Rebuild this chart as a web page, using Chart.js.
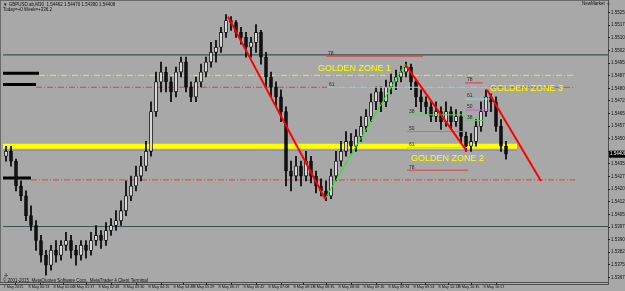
<!DOCTYPE html>
<html>
<head>
<meta charset="utf-8">
<script src="https://cdn.jsdelivr.net/npm/chart.js@4.4.0/dist/chart.umd.min.js"></script>
<style>
html, body { margin: 0; padding: 0; background: #a8a8a8; }
#wrap { width: 625px; height: 291px; position: relative; }
</style>
</head>
<body>
<div id="wrap"><canvas id="chart"></canvas></div>
<script>
// GBPUSD candles, one per slot
var firstOpen = 1.54396;
var closes = [
    1.54425, 1.54367, 1.54219, 1.54160, 1.54043, 1.53984, 1.53895, 1.53807, 1.53748, 1.53836,
    1.53807, 1.53866, 1.53895, 1.53836, 1.53807, 1.53866, 1.53836, 1.53895, 1.53925, 1.53895,
    1.53954, 1.53984, 1.54013, 1.54072, 1.54160, 1.54219, 1.54278, 1.54337, 1.54425, 1.54661,
    1.54838, 1.54897, 1.54838, 1.54779, 1.54897, 1.54956, 1.54808, 1.54749, 1.54838, 1.54897,
    1.54956, 1.55014, 1.55044, 1.55132, 1.55203, 1.55191, 1.55132, 1.55103, 1.55044, 1.55073,
    1.55132, 1.54985, 1.54867, 1.54808, 1.54749, 1.54661, 1.54308, 1.54278, 1.54337, 1.54278,
    1.54367, 1.54278, 1.54219, 1.54190, 1.54160, 1.54278, 1.54367, 1.54425, 1.54484, 1.54455,
    1.54514, 1.54573, 1.54632, 1.54720, 1.54779, 1.54720, 1.54808, 1.54838, 1.54867, 1.54897,
    1.54926, 1.54838, 1.54749, 1.54720, 1.54690, 1.54632, 1.54661, 1.54602, 1.54661, 1.54602,
    1.54632, 1.54514, 1.54455, 1.54484, 1.54573, 1.54661, 1.54749, 1.54720, 1.54573, 1.54455,
    1.54408
];
var highs = [
    1.54455, 1.54455, 1.54379, 1.54249, 1.54190, 1.54101, 1.54013, 1.53925, 1.53836, 1.53866,
    1.53895, 1.53895, 1.53943, 1.53925, 1.53866, 1.53895, 1.53895, 1.53943, 1.53984, 1.53954,
    1.54001, 1.54025, 1.54072, 1.54131, 1.54249, 1.54278, 1.54337, 1.54396, 1.54484, 1.54720,
    1.54897, 1.54956, 1.54926, 1.54867, 1.54926, 1.54985, 1.54985, 1.54838, 1.54867, 1.54944,
    1.54985, 1.55073, 1.55085, 1.55162, 1.55238, 1.55226, 1.55203, 1.55162, 1.55132, 1.55103,
    1.55179, 1.55144, 1.55014, 1.54897, 1.54838, 1.54791, 1.54690, 1.54367, 1.54396, 1.54367,
    1.54425, 1.54396, 1.54308, 1.54261, 1.54249, 1.54320, 1.54425, 1.54484, 1.54543, 1.54531,
    1.54555, 1.54632, 1.54673, 1.54767, 1.54808, 1.54808, 1.54849, 1.54885, 1.54908, 1.54932,
    1.54956, 1.54944, 1.54849, 1.54791, 1.54749, 1.54720, 1.54720, 1.54690, 1.54720, 1.54690,
    1.54673, 1.54661, 1.54543, 1.54531, 1.54614, 1.54720, 1.54791, 1.54767, 1.54749, 1.54614,
    1.54484
];
var lows = [
    1.54367, 1.54337, 1.54190, 1.54131, 1.54013, 1.53954, 1.53836, 1.53766, 1.53689, 1.53719,
    1.53766, 1.53778, 1.53836, 1.53789, 1.53748, 1.53778, 1.53789, 1.53807, 1.53866, 1.53848,
    1.53866, 1.53925, 1.53954, 1.53984, 1.54043, 1.54131, 1.54190, 1.54249, 1.54308, 1.54396,
    1.54632, 1.54779, 1.54779, 1.54720, 1.54749, 1.54867, 1.54779, 1.54720, 1.54720, 1.54808,
    1.54867, 1.54926, 1.54956, 1.55014, 1.55103, 1.55144, 1.55103, 1.55062, 1.54985, 1.54985,
    1.55014, 1.54944, 1.54808, 1.54749, 1.54690, 1.54602, 1.54219, 1.54190, 1.54249, 1.54219,
    1.54249, 1.54237, 1.54178, 1.54160, 1.54131, 1.54143, 1.54249, 1.54337, 1.54396, 1.54414,
    1.54425, 1.54484, 1.54543, 1.54602, 1.54673, 1.54661, 1.54690, 1.54767, 1.54791, 1.54838,
    1.54867, 1.54791, 1.54690, 1.54661, 1.54649, 1.54602, 1.54602, 1.54555, 1.54573, 1.54555,
    1.54573, 1.54473, 1.54425, 1.54425, 1.54455, 1.54543, 1.54632, 1.54661, 1.54543, 1.54425,
    1.54379
];

// time axis: label text and the candle it belongs to
var timeLabels = ['7 May 2015', '8 May 00:13', '8 May 01:00', '8 May 01:37', '8 May 02:48', '8 May 03:30',
    '8 May 04:15', '8 May 04:48', '8 May 05:29', '8 May 06:17', '8 May 06:42', '8 May 07:08', '8 May 08:13',
    '8 May 08:35', '8 May 08:58', '8 May 09:16', '8 May 09:34', '8 May 09:53', '8 May 10:13', '8 May 10:35',
    '8 May 10:57'];
var timeLabelCandles = [0, 5, 10, 14, 19, 24, 29, 34, 38, 43, 48, 53, 58, 62, 67, 72, 77, 82, 87, 91, 96];

var priceTicks = [1.55250, 1.55175, 1.55100, 1.55025, 1.54950, 1.54875, 1.54800, 1.54725, 1.54650, 1.54575,
    1.54500, 1.54425, 1.54350, 1.54275, 1.54200, 1.54125, 1.54050, 1.53975, 1.53900, 1.53825, 1.53750, 1.53675];

// objects drawn on the chart (candle index, price)
var trendLines = [
    { from: [44.4, 1.55226], to: [63.8, 1.54143], color: '#ff0000', width: 2 },
    { from: [63.8, 1.54143], to: [79.8, 1.54944], color: '#00ff00', width: 1 },
    { from: [79.8, 1.54944], to: [92.2, 1.54425], color: '#ff0000', width: 2 },
    { from: [96.2, 1.54791], to: [107.0, 1.54249], color: '#ff0000', width: 2 }
];
var levelNames = ['78', '61', '38', '50', '61', '78', '78', '61', '50', '38'];
var levelPrices = [1.54991, 1.54806, 1.54642, 1.54543, 1.54447, 1.54313, 1.54832, 1.54736, 1.54671, 1.54608];
var levelStart = [64.0, 64.2, 80.2, 80.2, 80.2, 80.2, 91.8, 91.8, 91.8, 91.8];
var levelEnd = [83.4, 96.8, 92.2, 92.2, 92.2, 92.4, 95.4, 96.8, 96.8, 95.8];
var zoneNames = ['GOLDEN ZONE 1', 'GOLDEN ZONE 2', 'GOLDEN ZONE 3'];
var zoneAt = [[62.4, 1.54920], [81.0, 1.54384], [96.8, 1.54796]];

var levelColors = { '78': '#e03c3c', '61': '#7fe0e8', '50': '#e050e0', '38': '#5ad35a' };

var X_MIN = -0.6, X_MAX = 120.4;

var opens = closes.map(function (c, i) { return i === 0 ? firstOpen : closes[i - 1]; });

function seg(x0, x1, y0, y1, color, width, dash, order) {
    return {
        type: 'line',
        data: [{ x: x0, y: y0 }, { x: x1, y: y1 }],
        borderColor: color,
        borderWidth: width,
        borderDash: dash || [],
        pointRadius: 0,
        fill: false,
        tension: 0,
        order: order
    };
}

var datasets = [];
// background levels
datasets.push(seg(X_MIN, X_MAX, 1.54999, 1.54999, '#3e5050', 1.2, null, 20));
datasets.push(seg(X_MIN, X_MAX, 1.53978, 1.53978, '#3e5050', 1.2, null, 20));
datasets.push(seg(6.6, 113.8, 1.54877, 1.54877, '#e6e64a', 1, [6, 2, 1, 2], 19));
datasets.push(seg(6.0, 113.8, 1.54806, 1.54806, '#d04848', 1, [6, 2, 1, 2], 19));
datasets.push(seg(5.0, 113.8, 1.54255, 1.54255, '#d04848', 1, [6, 2, 1, 2], 19));
datasets.push(seg(X_MIN, 6.6, 1.54889, 1.54889, '#000000', 3, null, 18));
datasets.push(seg(X_MIN, 6.0, 1.54822, 1.54822, '#000000', 3, null, 18));
datasets.push(seg(X_MIN, 5.0, 1.54266, 1.54266, '#000000', 3, null, 18));
datasets.push(seg(X_MIN, 102.2, 1.54455, 1.54455, '#ffff00', 5, null, 17));
datasets.push(seg(X_MIN, 102.2, 1.54430, 1.54430, '#8c8cd0', 1, null, 17));

// candles
datasets.push({
    type: 'bar',
    data: closes.map(function (c, i) { return { x: i, y: [lows[i], highs[i]] }; }),
    backgroundColor: '#000000',
    barThickness: 1,
    grouped: false,
    order: 6
});
datasets.push({
    type: 'bar',
    data: closes.map(function (c, i) { return { x: i, y: [opens[i], closes[i]] }; }),
    backgroundColor: closes.map(function (c, i) { return c >= opens[i] ? '#d8d8d8' : '#111111'; }),
    borderColor: '#000000',
    borderWidth: 0.8,
    borderSkipped: false,
    barThickness: 3,
    minBarLength: 1,
    grouped: false,
    order: 5
});

// fibo levels
levelNames.forEach(function (n, k) {
    datasets.push(seg(levelStart[k], levelEnd[k], levelPrices[k], levelPrices[k], levelColors[n], 1, null, 3));
});
// trend lines
trendLines.forEach(function (t) {
    datasets.push(seg(t.from[0], t.to[0], t.from[1], t.to[1], t.color, t.width, null, 1));
});

var mtPlugin = {
    id: 'mt',
    beforeDraw: function (chart) {
        var c = chart.ctx, a = chart.chartArea;
        c.save();
        c.fillStyle = '#a8a8a8';
        c.fillRect(0, 0, chart.width, chart.height);
        c.strokeStyle = '#6a6a6a';
        c.lineWidth = 1;
        c.beginPath();
        c.moveTo(0.5, 0); c.lineTo(0.5, a.bottom);
        c.moveTo(0, 0.5); c.lineTo(a.right, 0.5);
        c.stroke();
        c.strokeStyle = '#505050';
        c.beginPath();
        c.moveTo(0, a.bottom - 0.5); c.lineTo(a.right, a.bottom - 0.5);
        c.moveTo(0, a.bottom + 1.5); c.lineTo(a.right, a.bottom + 1.5);
        c.moveTo(a.right + 0.5, 0); c.lineTo(a.right + 0.5, a.bottom + 2);
        c.stroke();
        c.restore();
    },
    afterDatasetsDraw: function (chart) {
        var c = chart.ctx, xs = chart.scales.x, ys = chart.scales.y, a = chart.chartArea;
        c.save();
        c.textBaseline = 'middle';
        c.textAlign = 'left';
        // fibo numbers
        c.font = '5px "Liberation Sans", Arial, sans-serif';
        c.fillStyle = '#2a2a2a';
        levelNames.forEach(function (n, k) {
            c.fillText(n, xs.getPixelForValue(levelStart[k]) + 2, ys.getPixelForValue(levelPrices[k]) - 3);
        });
        // zone captions
        c.font = '9px "Liberation Sans", Arial, sans-serif';
        c.fillStyle = '#ffff00';
        zoneNames.forEach(function (n, k) {
            c.fillText(n, xs.getPixelForValue(zoneAt[k][0]), ys.getPixelForValue(zoneAt[k][1]));
        });
        // header
        c.font = '4.5px "Liberation Sans", Arial, sans-serif';
        c.fillStyle = '#111111';
        var last = closes[closes.length - 1];
        c.fillText('\u25BC GBPUSD.ab,M30  1.54462 1.54470 1.54390 ' + last.toFixed(5), 3, 5);
        c.fillText('Today=+0 Week=+336.2', 3, 10);
        c.fillText('NewMarket \u263A', a.right - 26, 4);
        c.fillText('\u271B', 4, 276);
        c.fillText('\u00A9 2001-2015, MetaQuotes Software Corp., MetaTrader 4 Client Terminal', 3, 280.5);
        // current price box
        var py = ys.getPixelForValue(last);
        c.fillStyle = '#000000';
        c.fillRect(a.right + 1, py - 3.5, chart.width - a.right - 1, 7);
        c.fillStyle = '#ffffff';
        c.fillText(last.toFixed(5), a.right + 2, py);
        c.restore();
    }
};

var lastClose = closes[closes.length - 1];

new Chart(document.getElementById('chart'), {
    type: 'bar',
    data: { datasets: datasets },
    options: {
        responsive: true,
        maintainAspectRatio: false,
        animation: false,
        layout: { padding: { left: 3, top: 1, right: 0, bottom: 0 } },
        plugins: { legend: { display: false }, tooltip: { enabled: false } },
        scales: {
            x: {
                type: 'linear',
                min: X_MIN,
                max: X_MAX,
                offset: false,
                afterBuildTicks: function (s) {
                    s.ticks = timeLabelCandles.map(function (i) { return { value: i - 0.5 }; });
                },
                afterFit: function (s) { s.height = 8; },
                grid: { drawOnChartArea: false, drawTicks: true, tickLength: 2, color: '#222222' },
                border: { display: false },
                ticks: {
                    autoSkip: false,
                    maxRotation: 0,
                    align: 'start',
                    padding: 0,
                    color: '#111111',
                    font: { family: '"Liberation Sans", Arial, sans-serif', size: 3.8 },
                    callback: function (v, i) { return timeLabels[i]; }
                }
            },
            y: {
                type: 'linear',
                position: 'right',
                min: 1.53642,
                max: 1.55303,
                afterBuildTicks: function (s) {
                    s.ticks = priceTicks.map(function (p) { return { value: p }; });
                },
                afterFit: function (s) { s.width = 17; },
                grid: { drawOnChartArea: false, drawTicks: true, tickLength: 2, color: '#222222' },
                border: { display: false },
                ticks: {
                    autoSkip: false,
                    padding: 1,
                    color: '#111111',
                    font: { family: '"Liberation Sans", Arial, sans-serif', size: 4.5 },
                    callback: function (v) {
                        return Math.abs(v - lastClose) < 0.0002 ? '' : v.toFixed(5);
                    }
                }
            }
        }
    },
    plugins: [mtPlugin]
});
</script>
</body>
</html>
